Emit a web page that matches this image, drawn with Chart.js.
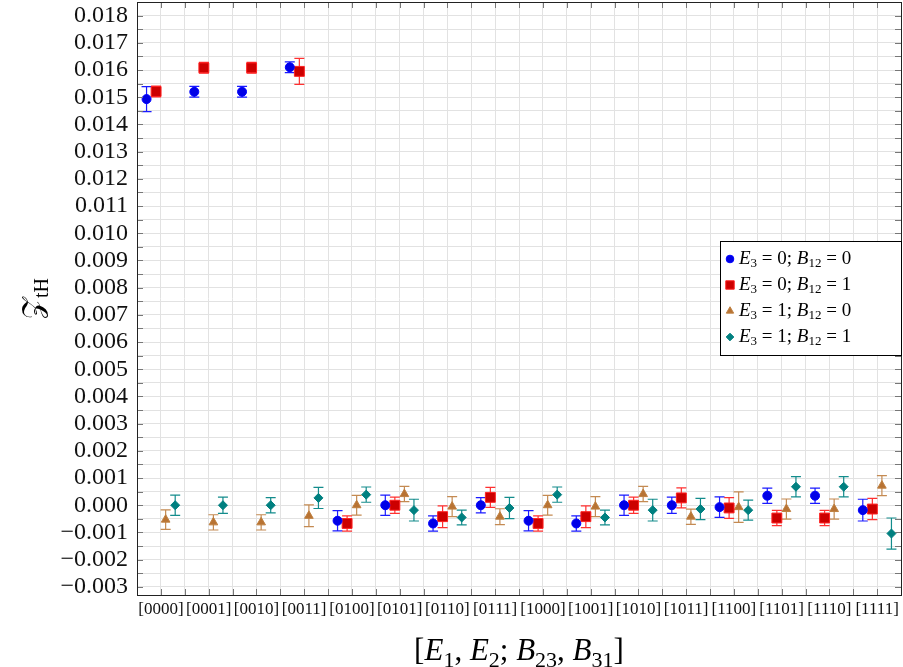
<!doctype html>
<html>
<head>
<meta charset="utf-8">
<title>Z_tH by sector</title>
<script src="https://cdn.jsdelivr.net/npm/chart.js@4.4.0/dist/chart.umd.min.js"></script>
<style>
body { margin: 0; background: #fff; }
#holder { width: 903px; height: 667px; }
</style>
</head>
<body>
<div id="holder"><canvas id="chart" width="903" height="667"></canvas></div>
<script>
// sectors [E1 E2 B23 B31]
var categories = ['[0000]', '[0001]', '[0010]', '[0011]', '[0100]', '[0101]', '[0110]', '[0111]',
                  '[1000]', '[1001]', '[1010]', '[1011]', '[1100]', '[1101]', '[1110]', '[1111]'];

// E3 = 0; B12 = 0
var z00   = [0.01493, 0.0152, 0.0152, 0.0161, -0.00057, 0, -0.00067, 0, -0.00057, -0.00067, 0, 0, -0.00007, 0.00035, 0.00035, -0.00018];
var err00 = [0.00046, 0.0002, 0.0002, 0.0002, 0.00037, 0.00037, 0.00028, 0.00028, 0.00037, 0.00028, 0.00037, 0.0003, 0.00038, 0.00028, 0.00028, 0.0004];
// E3 = 0; B12 = 1
var z01   = [0.01521, 0.01608, 0.01608, 0.01595, -0.00067, 0, -0.00042, 0.00029, -0.00067, -0.00042, 0, 0.00027, -0.0001, -0.00047, -0.00047, -0.00014];
var err01 = [0.0002, 0.0002, 0.0002, 0.00048, 0.00028, 0.0003, 0.0004, 0.00037, 0.00028, 0.0004, 0.0003, 0.00037, 0.00038, 0.00028, 0.00028, 0.00039];
// E3 = 1; B12 = 0
var z10   = [-0.00053, -0.00063, -0.00063, -0.00039, 0, 0.00041, -0.00005, -0.00042, 0, -0.00005, 0.00041, -0.00042, -0.00007, -0.00014, -0.00014, 0.00072];
var err10 = [0.00036, 0.00028, 0.00028, 0.0004, 0.00036, 0.00028, 0.00037, 0.00029, 0.00036, 0.00037, 0.00028, 0.00028, 0.00056, 0.00037, 0.00037, 0.00037];
// E3 = 1; B12 = 1
var z11   = [0, 0, 0, 0.00027, 0.00039, -0.00018, -0.00045, -0.0001, 0.00039, -0.00045, -0.00018, -0.00014, -0.00018, 0.00068, 0.00068, -0.00104];
var err11 = [0.00037, 0.0003, 0.00028, 0.00039, 0.00028, 0.0004, 0.00027, 0.00039, 0.00028, 0.00027, 0.0004, 0.00039, 0.00037, 0.00037, 0.00037, 0.00057];

var offsets = [-0.3, -0.1, 0.1, 0.3];
var serif = '"Liberation Serif", "DejaVu Serif", serif';

function points(vals, errs, off) {
    return vals.map(function(v, i) {
        return { x: i + off, y: v, e: errs[i] };
    });
}

var series = [
    { sub: ['3', ' = 0; ', '12', ' = 0'], data: points(z00, err00, offsets[0]), style: 'circle', r: 4.5, fill: '#0000e6', line: '#0000ff', err: '#1a1aff' },
    { sub: ['3', ' = 0; ', '12', ' = 1'], data: points(z01, err01, offsets[1]), style: 'rect', r: 7, fill: '#cc0000', line: '#ff2020', err: '#ff3030' },
    { sub: ['3', ' = 1; ', '12', ' = 0'], data: points(z10, err10, offsets[2]), style: 'triangle', r: 5, fill: '#b87333', line: '#bf8040', err: '#c48a52' },
    { sub: ['3', ' = 1; ', '12', ' = 1'], data: points(z11, err11, offsets[3]), style: 'rectRot', r: 4.5, fill: '#008080', line: '#008080', err: '#138c8c' }
];

// draw a run of text pieces: {t, it (italic), sub (subscript)}
function richWidth(ctx, parts, size) {
    var w = 0;
    parts.forEach(function(p) {
        ctx.font = (p.it ? 'italic ' : '') + (p.sub ? Math.round(size * 0.7) : size) + 'px ' + serif;
        w += ctx.measureText(p.t).width;
    });
    return w;
}
function drawRich(ctx, parts, x, y, size) {
    parts.forEach(function(p) {
        ctx.font = (p.it ? 'italic ' : '') + (p.sub ? Math.round(size * 0.7) : size) + 'px ' + serif;
        ctx.fillText(p.t, x, p.sub ? y + size * 0.22 : y);
        x += ctx.measureText(p.t).width;
    });
}

var errorBars = {
    id: 'errorBars',
    beforeDatasetsDraw: function(chart) {
        var ctx = chart.ctx, xs = chart.scales.x, ys = chart.scales.y;
        chart.data.datasets.forEach(function(ds) {
            ctx.save();
            ctx.strokeStyle = ds.errColor;
            ctx.lineWidth = 1.2;
            ds.data.forEach(function(p) {
                var x = xs.getPixelForValue(p.x);
                var y1 = ys.getPixelForValue(p.y + p.e);
                var y2 = ys.getPixelForValue(p.y - p.e);
                ctx.beginPath();
                ctx.moveTo(x, y1); ctx.lineTo(x, y2);
                ctx.moveTo(x - 5, y1); ctx.lineTo(x + 5, y1);
                ctx.moveTo(x - 5, y2); ctx.lineTo(x + 5, y2);
                ctx.stroke();
            });
            ctx.restore();
        });
    }
};

var frame = {
    id: 'frame',
    afterDraw: function(chart) {
        var ctx = chart.ctx, a = chart.chartArea;
        var xs = chart.scales.x, ys = chart.scales.y;
        ctx.save();
        // inward ticks
        ctx.strokeStyle = '#777';
        ctx.lineWidth = 1;
        ctx.beginPath();
        xs.ticks.forEach(function(t) {
            var x = Math.round(xs.getPixelForValue(t.value)) + 0.5;
            ctx.moveTo(x, a.bottom); ctx.lineTo(x, a.bottom - 6);
            ctx.moveTo(x, a.top); ctx.lineTo(x, a.top + 6);
        });
        ys.ticks.forEach(function(t) {
            var y = Math.round(ys.getPixelForValue(t.value)) + 0.5;
            ctx.moveTo(a.left, y); ctx.lineTo(a.left + 6, y);
            ctx.moveTo(a.right, y); ctx.lineTo(a.right - 6, y);
        });
        ctx.stroke();
        ctx.strokeStyle = '#222';
        ctx.strokeRect(Math.round(a.left) + 0.5, Math.round(a.top) + 0.5, Math.round(a.right - a.left), Math.round(a.bottom - a.top));

        // legend
        var bx = 720.5, by = 241.5, bw = 181, bh = 114;
        ctx.fillStyle = '#fff';
        ctx.fillRect(bx, by, bw, bh);
        ctx.strokeStyle = '#000';
        ctx.strokeRect(bx, by, bw, bh);
        ctx.textBaseline = 'middle';
        ctx.textAlign = 'left';
        series.forEach(function(s, i) {
            var y = 259 + i * 26;
            ctx.fillStyle = s.fill;
            ctx.strokeStyle = s.line;
            Chart.helpers.drawPoint(ctx, { pointStyle: s.style, radius: s.r * 0.85, rotation: 0, borderWidth: 1 }, 730, y);
            ctx.fillStyle = '#000';
            drawRich(ctx, [
                { t: 'E', it: true }, { t: s.sub[0], sub: true }, { t: s.sub[1] },
                { t: 'B', it: true }, { t: s.sub[2], sub: true }, { t: s.sub[3] }
            ], 739, y, 19);
        });

        // axis titles
        ctx.fillStyle = '#000';
        ctx.textBaseline = 'alphabetic';
        var xt = [
            { t: '[' }, { t: 'E', it: true }, { t: '1', sub: true }, { t: ', ' },
            { t: 'E', it: true }, { t: '2', sub: true }, { t: '; ' },
            { t: 'B', it: true }, { t: '23', sub: true }, { t: ', ' },
            { t: 'B', it: true }, { t: '31', sub: true }, { t: ']' }
        ];
        var w = richWidth(ctx, xt, 31);
        drawRich(ctx, xt, (a.left + a.right) / 2 - w / 2, 660, 31);

        ctx.translate(42, (a.top + a.bottom) / 2);
        ctx.rotate(-Math.PI / 2);
        var yt = [{ t: '\uD835\uDCB5' }, { t: 'tH', sub: true }];
        var wy = richWidth(ctx, yt, 28);
        drawRich(ctx, yt, -wy / 2, 0, 28);
        ctx.restore();
    }
};

var gridColor = '#e2e2e2';

var config = {
    type: 'scatter',
    data: {
        datasets: series.map(function(s) {
            return {
                data: s.data,
                pointStyle: s.style,
                pointRadius: s.r,
                backgroundColor: s.fill,
                borderColor: s.line,
                borderWidth: 1,
                errColor: s.err
            };
        })
    },
    options: {
        responsive: false,
        animation: false,
        events: [],
        layout: { autoPadding: false, padding: { top: 2, right: 2, left: 0, bottom: 0 } },
        plugins: { legend: { display: false }, tooltip: { enabled: false } },
        scales: {
            x: {
                type: 'linear',
                min: -0.5,
                max: 15.5,
                afterBuildTicks: function(scale) {
                    var t = [];
                    for (var k = 0; k <= 32; k++) t.push({ value: -0.5 + 0.5 * k });
                    scale.ticks = t;
                },
                afterFit: function(scale) {
                    scale.height = 72;
                    scale.paddingLeft = 0;
                    scale.paddingRight = 0;
                },
                ticks: {
                    autoSkip: false,
                    maxRotation: 0,
                    padding: 4,
                    color: '#111',
                    font: { family: serif, size: 17 },
                    callback: function(v) {
                        return Number.isInteger(v) ? categories[v] : '';
                    }
                },
                grid: { color: gridColor, drawTicks: false },
                border: { display: false }
            },
            y: {
                min: -0.0033,
                max: 0.0185,
                afterBuildTicks: function(scale) {
                    var t = [];
                    for (var k = -6; k <= 37; k++) t.push({ value: k * 0.0005 });
                    scale.ticks = t;
                },
                afterFit: function(scale) {
                    scale.width = 137;
                    scale.paddingTop = 0;
                    scale.paddingBottom = 0;
                },
                ticks: {
                    autoSkip: false,
                    padding: 9,
                    color: '#111',
                    font: { family: serif, size: 24 },
                    callback: function(v) {
                        var k = Math.round(v / 0.0005);
                        if (k % 2 !== 0) return '';
                        return (k * 0.0005).toFixed(3).replace('-', '\u2212');
                    }
                },
                grid: { color: gridColor, drawTicks: false },
                border: { display: false }
            }
        }
    },
    plugins: [errorBars, frame]
};

window.onload = function() {
    var ctx = document.getElementById('chart').getContext('2d');
    window.zChart = new Chart(ctx, config);
};
</script>
</body>
</html>
